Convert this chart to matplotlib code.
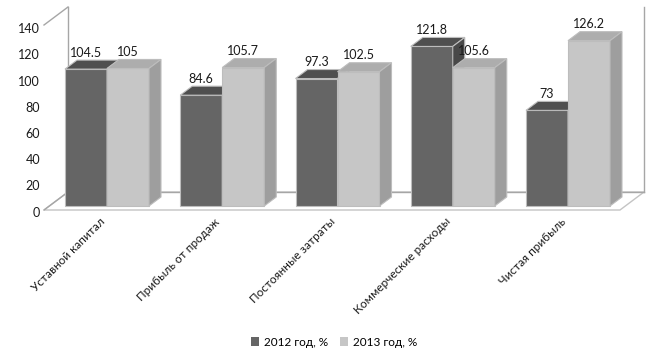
import matplotlib
matplotlib.use("Agg")
import matplotlib.pyplot as plt
from matplotlib.patches import Polygon, Patch
import numpy as np

plt.rcParams['font.family'] = ['Lato', 'DejaVu Sans']

categories = ["Уставной капитал", "Прибыль от продаж", "Постоянные затраты",
              "Коммерческие расходы", "Чистая прибыль"]
values_2012 = [104.5, 84.6, 97.3, 121.8, 73]
values_2013 = [105, 105.7, 102.5, 105.6, 126.2]
series_names = ["2012 год, %", "2013 год, %"]
yticks = [0, 20, 40, 60, 80, 100, 120, 140]

# styling
W, H = 666, 353
C0 = 107.0          # pixel x of first category centre
SPX = 115.25        # pixels per category
Y0 = 206.0          # pixel y (from top) of value 0 at bar front
SPY = 1.31          # pixels per unit
def px_x(p):
    return p / SPX
def px_y(p):
    return p / SPY

dark = dict(front="#656565", top="#4f4f4f", side="#484848")
light = dict(front="#c6c6c6", top="#adadad", side="#9e9e9e")
edge = "#bdbdbd"

fig = plt.figure(figsize=(W / 100, H / 100), dpi=100)
ax = fig.add_axes([0, 0, 1, 1])
ax.set_xlim(-C0 / SPX, (W - C0) / SPX)
ax.set_ylim(-(H - Y0) / SPY, Y0 / SPY)
ax.axis("off")

# frame (floor + walls)
xl, xr = px_x(44 - C0), px_x(620 - C0)
yf = px_y(-4)
dxb, dyb = px_x(24), px_y(18)
ytop = px_y(Y0 - 7)
floor = Polygon([(xl, yf), (xr, yf), (xr + dxb, yf + dyb), (xl + dxb, yf + dyb)],
                closed=True, facecolor="white", edgecolor="#c4c4c4", lw=1.0, zorder=1)
ax.add_patch(floor)
wall_c = "#a6a6a6"
ax.plot([xl + dxb, xl + dxb], [yf + dyb, ytop], color=wall_c, lw=1.0, zorder=1)
ax.plot([xl, xl + dxb], [ytop - dyb, ytop], color=wall_c, lw=1.0, zorder=1)
ax.plot([xl, xl + dxb], [yf, yf + dyb], color=wall_c, lw=1.0, zorder=1)
ax.plot([xl + dxb, xr + dxb], [yf + dyb, yf + dyb], color=wall_c, lw=1.0, zorder=1)
ax.plot([xr + dxb, xr + dxb], [yf + dyb, ytop], color=wall_c, lw=1.0, zorder=1)

# bars
w = px_x(42)
ddx, ddy = px_x(12), px_y(9)
x = np.arange(len(categories))

def draw_series(xs, vals, col, z):
    ax.bar(xs, vals, width=w, align="edge", color=col["front"], edgecolor=edge,
           linewidth=0.8, zorder=z)
    for xi, v in zip(xs, vals):
        top = Polygon([(xi, v), (xi + w, v), (xi + w + ddx, v + ddy), (xi + ddx, v + ddy)],
                      closed=True, facecolor=col["top"], edgecolor=edge, lw=0.8, zorder=z)
        side = Polygon([(xi + w, 0), (xi + w + ddx, ddy), (xi + w + ddx, v + ddy), (xi + w, v)],
                       closed=True, facecolor=col["side"], edgecolor=edge, lw=0.8, zorder=z)
        ax.add_patch(top)
        ax.add_patch(side)

draw_series(x - w, values_2012, dark, 2)
draw_series(x, values_2013, light, 3)

# value labels
for xs, vals in ((x - w, values_2012), (x, values_2013)):
    for xi, v in zip(xs, vals):
        ax.text(xi + w / 2, v + ddy + px_y(1.5), f"{v:g}", ha="center", va="bottom",
                fontsize=9, color="#1a1a1a", zorder=10)

# y tick labels
for t in yticks:
    ax.text(px_x(40 - C0), t - 5, str(t), ha="right", va="center", fontsize=9,
            color="#1a1a1a")

# category labels
for xi, lab in zip(x, categories):
    ax.text(xi, px_y(-10), lab, rotation=45, ha="right", va="top", fontsize=8.5,
            color="#1a1a1a")

handles = [Patch(facecolor=dark["front"]), Patch(facecolor=light["front"])]
fig.legend(handles, series_names, loc="center", bbox_to_anchor=(334 / W, 11 / H),
           ncol=2, frameon=False, fontsize=8.5, handlelength=0.7, handleheight=0.7,
           handletextpad=0.4, columnspacing=1.0)

fig.savefig("out.png", dpi=100)
